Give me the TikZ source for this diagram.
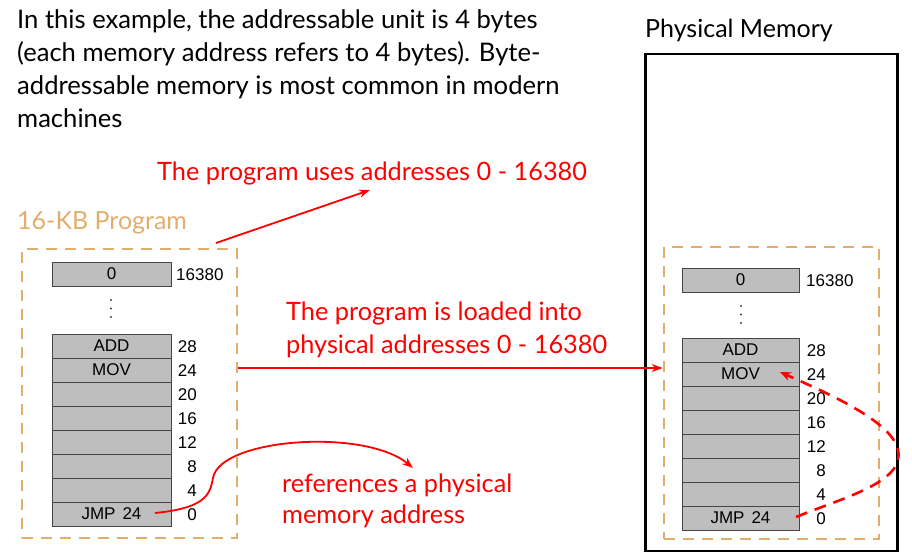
\documentclass[tikz,border=0pt]{standalone}
\usepackage{fontspec}
\setmainfont{Lato}
\newfontfamily\cellfont{Liberation Sans}
\usetikzlibrary{arrows.meta,calc}
\definecolor{tan}{RGB}{226,174,110}
\definecolor{cellgray}{RGB}{190,190,190}
\definecolor{celledge}{RGB}{70,70,70}
\definecolor{annot}{RGB}{255,0,0}

\begin{document}
\begin{tikzpicture}[x=1pt,y=-1pt,
  prose/.style={anchor=base west, inner sep=0, font=\fontsize{25.6}{30}\selectfont},
  note/.style={anchor=base west, inner sep=0, text=annot, font=\fontsize{25.3}{30}\selectfont},
  heading/.style={anchor=base west, inner sep=0, font=\fontsize{25}{30}\selectfont},
  cell/.style={draw=celledge, fill=cellgray, line width=0.8pt, minimum height=24pt, inner sep=0,
    font=\cellfont\fontsize{17}{19}\selectfont},
  addr/.style={anchor=base east, inner sep=0, font=\cellfont\fontsize{17}{19}\selectfont},
  topaddr/.style={anchor=base west, inner sep=0, font=\cellfont\fontsize{17}{19}\selectfont},
  region/.style={draw=tan, line width=2.6pt, dash pattern=on 11pt off 8pt, inner sep=0},
  redarrow/.style={draw=annot, line width=1.8pt, -{Stealth[length=11pt,width=8pt]}},
  reddash/.style={draw=annot, line width=2.6pt, dash pattern=on 12pt off 8pt,
    -{Stealth[length=11pt,width=9pt]}},
]
\useasboundingbox (0,0) rectangle (912,556);

% explanatory paragraph
\node[prose] (p1) at (17,29) {In this example, the addressable unit is 4 bytes};
\node[prose] (p2) at (17,62) {(each memory address refers to 4 bytes). Byte-};
\node[prose] (p3) at (17,95) {addressable memory is most common in modern};
\node[prose] (p4) at (17,128) {machines};

% titles
\node[heading] (phystitle) at (645,38) {Physical Memory};
\node[heading, text=tan] (progtitle) at (17,229) {16-KB Program};

% dashed program regions and physical memory frame
\node[region, minimum width=215pt, minimum height=289pt] (prog) at (129.5,393.5) {};
\node[region, minimum width=215pt, minimum height=292pt] (loaded) at (771.5,393) {};
\node[draw, line width=2.5pt, minimum width=252pt, minimum height=497pt, inner sep=0] (phys) at (771.5,302.5) {};

% left program image
\node[cell, minimum width=119pt] (Ltop) at (111.5,274) {0};
\node[topaddr] (Ltopa) at (176,280) {16380};
\foreach \k in {0,1,2} \fill[black!75] (111,300+8.5*\k) circle (1.1);
\foreach \t [count=\i from 0] in {ADD,MOV,{},{},{},{},{},{JMP\hspace{7pt}24}}
  \node[cell, minimum width=119pt] (L\i) at (111.5,346+24*\i) {\t};
\foreach \a [count=\i from 0] in {28,24,20,16,12,8,4,0}
  \node[addr] (La\i) at (197,352+24*\i) {\a};

% right program image inside physical memory
\node[cell, minimum width=117pt] (Rtop) at (740.5,280) {0};
\node[topaddr] (Rtopa) at (806,286) {16380};
\foreach \k in {0,1,2} \fill[black!75] (741,306+8.5*\k) circle (1.1);
\foreach \t [count=\i from 0] in {ADD,MOV,{},{},{},{},{},{JMP\hspace{7pt}24}}
  \node[cell, minimum width=117pt] (R\i) at (740.5,350+24*\i) {\t};
\foreach \a [count=\i from 0] in {28,24,20,16,12,8,4,0}
  \node[addr] (Ra\i) at (826,356+24*\i) {\a};

% annotations
\node[note] (uses) at (157,181) {The program uses addresses 0 - 16380};
\node[note] (load1) at (286,320) {The program is loaded into};
\node[note] (load2) at (286,353) {physical addresses 0 - 16380};
\node[note] (ref1) at (282,492) {references a physical};
\node[note] (ref2) at (282,523) {memory address};

% connector end points
\coordinate (usesFrom) at (216,243);
\coordinate (usesTo) at (370,190);
\coordinate (loadFrom) at (prog.east |- 0,368);
\coordinate (loadTo) at (loaded.west |- 0,368);
\coordinate (jmpL) at (155,513);
\coordinate (refTo) at (413,468);
\coordinate (jmpR) at (796,517);
\coordinate (movR) at (780,372);

\draw[redarrow] (usesFrom) -- (usesTo);
\draw[redarrow] (loadFrom) -- (loadTo);
\draw[redarrow] (jmpL) .. controls (205,508) and (210,495) .. (213,478)
  .. controls (220,438) and (365,428) .. (refTo);
\draw[reddash] (jmpR) .. controls (845,497) and (905,482) .. (898,450)
  .. controls (892,420) and (820,390) .. (movR);
\end{tikzpicture}
\end{document}
